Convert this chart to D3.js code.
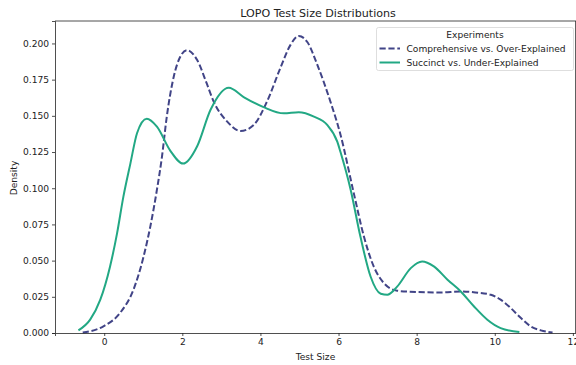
<!DOCTYPE html>
<html>
<head>
<meta charset="utf-8">
<script src="https://cdn.jsdelivr.net/npm/d3@7"></script>
<style>
  body { margin: 0; background: #fff; }
  svg { font-family: "DejaVu Sans", sans-serif; }
</style>
</head>
<body>
<svg id="chart" width="576" height="365"></svg>
<script>
// density curves (x = test size, y = density)
const compX = [-0.55, -0.02, 0.41, 0.75, 1.01, 1.18, 1.35, 1.48, 1.6, 1.78, 1.95, 2.12, 2.38, 2.63, 2.8, 3.15, 3.49, 3.83, 4.17, 4.51, 4.77, 4.98, 5.2, 5.46, 5.79, 6.05, 6.39, 6.65, 6.9, 7.16, 7.5, 8.01, 8.62, 9.13, 9.5, 9.9, 10.15, 10.41, 10.67, 10.92, 11.18, 11.48];
const compY = [0.0003, 0.0046, 0.014, 0.030, 0.053, 0.0735, 0.099, 0.122, 0.149, 0.177, 0.191, 0.1954, 0.1885, 0.172, 0.160, 0.146, 0.1395, 0.1437, 0.160, 0.183, 0.199, 0.2052, 0.201, 0.185, 0.160, 0.137, 0.0966, 0.0666, 0.046, 0.0345, 0.0292, 0.0283, 0.028, 0.0287, 0.028, 0.0264, 0.023, 0.0172, 0.0103, 0.0046, 0.0018, 0.0004];

const succX = [-0.66, -0.36, -0.1, 0.15, 0.33, 0.49, 0.67, 0.84, 1.09, 1.35, 1.69, 2.02, 2.38, 2.72, 3.19, 3.57, 4.08, 4.6, 4.98, 5.37, 5.71, 5.97, 6.05, 6.31, 6.56, 6.82, 7.08, 7.25, 7.5, 7.85, 8.14, 8.44, 8.79, 9.13, 9.47, 9.81, 10.15, 10.63];
const succY = [0.0018, 0.0092, 0.023, 0.046, 0.069, 0.094, 0.117, 0.138, 0.148, 0.1425, 0.126, 0.117, 0.129, 0.154, 0.1694, 0.163, 0.156, 0.1517, 0.1524, 0.1494, 0.1437, 0.132, 0.125, 0.099, 0.0666, 0.039, 0.0271, 0.0264, 0.032, 0.0448, 0.0494, 0.046, 0.0368, 0.0287, 0.0183, 0.0092, 0.0034, 0.0007];

const seriesNames = ["Comprehensive vs. Over-Explained", "Succinct vs. Under-Explained"];
const xTicks = [0, 2, 4, 6, 8, 10, 12];
const yTicks = [0, 0.025, 0.05, 0.075, 0.1, 0.125, 0.15, 0.175, 0.2];

const colors = ["#414487", "#22a884"];
const dashes = ["6.2,2.7", null];

const margin = { top: 21, right: 0, bottom: 32, left: 55 };
const width = 576 - margin.left - margin.right;
const height = 365 - margin.top - margin.bottom;

const svg = d3.select("#chart");
const g = svg.append("g")
    .attr("transform", "translate(" + margin.left + "," + margin.top + ")");

const x = d3.scaleLinear().domain([-1.26, 12.08]).range([0, width]);
const y = d3.scaleLinear().domain([0, 0.2155]).range([height, 0]);

const series = [
    compX.map((v, i) => [v, compY[i]]),
    succX.map((v, i) => [v, succY[i]])
];

const line = d3.line()
    .x(d => x(d[0]))
    .y(d => y(d[1]))
    .curve(d3.curveMonotoneX);

series.forEach((pts, i) => {
    g.append("path")
        .datum(pts)
        .attr("fill", "none")
        .attr("stroke", colors[i])
        .attr("stroke-width", 2)
        .attr("stroke-dasharray", dashes[i])
        .attr("d", line);
});

// axes
const xAxis = d3.axisBottom(x).tickValues(xTicks).tickSize(3).tickPadding(3).tickFormat(d3.format("d"));
const yAxis = d3.axisLeft(y).tickValues(yTicks).tickSize(3).tickPadding(3).tickFormat(d3.format(".3f"));

const gx = g.append("g").attr("transform", `translate(0,${height})`).call(xAxis);
const gy = g.append("g").call(yAxis);

[gx, gy].forEach(a => {
    a.select(".domain").attr("stroke", "#222").attr("stroke-width", 0.8);
    a.selectAll(".tick line").attr("stroke", "#222").attr("stroke-width", 0.8);
    a.selectAll("text").attr("font-size", 9.1).attr("fill", "#222")
        .attr("font-family", "DejaVu Sans");
});

// top & right spines
g.append("line").attr("x1", 0).attr("x2", width).attr("y1", 0).attr("y2", 0)
    .attr("stroke", "#222").attr("stroke-width", 0.8);
g.append("line").attr("x1", width - 0.4).attr("x2", width - 0.4).attr("y1", 0).attr("y2", height)
    .attr("stroke", "#222").attr("stroke-width", 0.8);

// labels
svg.append("text")
    .attr("x", 318).attr("y", 17)
    .attr("text-anchor", "middle")
    .attr("font-size", 11.1)
    .attr("fill", "#222")
    .text("LOPO Test Size Distributions");

svg.append("text")
    .attr("x", 315.5).attr("y", 360)
    .attr("text-anchor", "middle")
    .attr("font-size", 9.1)
    .attr("fill", "#222")
    .text("Test Size");

svg.append("text")
    .attr("transform", "translate(16.5,178) rotate(-90)")
    .attr("text-anchor", "middle")
    .attr("font-size", 9.1)
    .attr("fill", "#222")
    .text("Density");

// legend
const legend = svg.append("g").attr("transform", "translate(376.5,27.5)");
legend.append("rect")
    .attr("width", 197).attr("height", 43)
    .attr("rx", 2)
    .attr("fill", "#fff").attr("fill-opacity", 0.8)
    .attr("stroke", "#d5d5d5").attr("stroke-width", 0.8);
legend.append("text")
    .attr("x", 98.5).attr("y", 10.5)
    .attr("text-anchor", "middle")
    .attr("font-size", 9.1)
    .attr("fill", "#222")
    .text("Experiments");

seriesNames.forEach((name, i) => {
    const cy = 21 + i * 14;
    legend.append("line")
        .attr("x1", 3).attr("x2", 23.5).attr("y1", cy).attr("y2", cy)
        .attr("stroke", colors[i])
        .attr("stroke-width", 2)
        .attr("stroke-dasharray", dashes[i]);
    legend.append("text")
        .attr("x", 30).attr("y", cy + 3.3)
        .attr("font-size", 9.1)
        .attr("fill", "#222")
        .text(name);
});
</script>
</body>
</html>
